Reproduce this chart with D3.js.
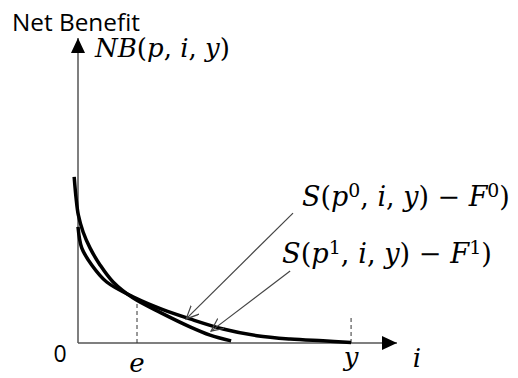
<!DOCTYPE html>
<html>
<head>
<meta charset="utf-8">
<script src="https://cdn.jsdelivr.net/npm/d3@7"></script>
<style>
  html, body { margin: 0; padding: 0; background: #fff; }
  svg { display: block; }
  .sans { font-family: "Open Sans", "Liberation Sans", sans-serif; }
  .math { font-family: "DejaVu Serif", "Liberation Serif", serif; }
</style>
</head>
<body>
<svg id="chart" width="518" height="378"></svg>
<script>
(function() {

    // curves, in (i, net benefit) units
    var curveP0 = [[0, 3.81], [0.12, 3.11], [0.43, 2.56], [0.9, 2.0], [1.79, 1.48],
                   [2.62, 1.11], [3.51, 0.79], [4.55, 0.46], [5.61, 0.24], [6.65, 0.13],
                   [7.68, 0.07], [8.56, 0.02]];
    var curveP1 = [[-0.12, 5.45], [-0.06, 4.75], [0.01, 4.2], [0.16, 3.64], [0.38, 3.11],
                   [0.69, 2.56], [1.1, 2.0], [1.72, 1.48], [2.62, 0.98], [3.51, 0.53],
                   [4.14, 0.26], [4.8, 0.07]];
    var marks = [{ name: 'e', x: 1.85, top: 1.4 }, { name: 'y', x: 8.56, top: 0.92 }];
    var pointers = [
        { from: [6.74, 4.26], to: [3.39, 0.79] }, // to S(p0...)
        { from: [6.65, 2.36], to: [4.17, 0.39] }  // to S(p1...)
    ];
    var axisMax = { x: 10, y: 10 };

    var svg = d3.select('#chart');

    var x = d3.scaleLinear().domain([0, axisMax.x]).range([78, 397]);
    var y = d3.scaleLinear().domain([0, axisMax.y]).range([343, 38]);

    var defs = svg.append('defs');
    defs.append('marker')
        .attr('id', 'solidHead')
        .attr('markerUnits', 'userSpaceOnUse')
        .attr('markerWidth', 16).attr('markerHeight', 16)
        .attr('refX', 15).attr('refY', 7)
        .attr('orient', 'auto')
        .append('path')
        .attr('d', 'M0,0 L15,7 L0,14 Z')
        .attr('fill', '#000');
    defs.append('marker')
        .attr('id', 'openHead')
        .attr('markerUnits', 'userSpaceOnUse')
        .attr('markerWidth', 16).attr('markerHeight', 16)
        .attr('refX', 13).attr('refY', 6)
        .attr('orient', 'auto')
        .append('path')
        .attr('d', 'M0,0 L13,6 L0,12')
        .attr('fill', 'none')
        .attr('stroke', '#444')
        .attr('stroke-width', 1.2);

    // axes
    svg.append('line')
        .attr('x1', x(0)).attr('y1', y(0))
        .attr('x2', x(axisMax.x)).attr('y2', y(0))
        .attr('stroke', '#555').attr('stroke-width', 1.5)
        .attr('marker-end', 'url(#solidHead)');
    svg.append('line')
        .attr('x1', x(0)).attr('y1', y(0))
        .attr('x2', x(0)).attr('y2', y(axisMax.y))
        .attr('stroke', '#555').attr('stroke-width', 1.5)
        .attr('marker-end', 'url(#solidHead)');

    // dashed guides at e and y
    svg.selectAll('line.guide')
        .data(marks)
        .enter()
        .append('line')
        .attr('class', 'guide')
        .attr('x1', function(d) { return x(d.x); })
        .attr('x2', function(d) { return x(d.x); })
        .attr('y1', y(0))
        .attr('y2', function(d) { return y(d.top); })
        .attr('stroke', '#333')
        .attr('stroke-width', 1)
        .attr('stroke-dasharray', '4,3');

    var line = d3.line()
        .x(function(d) { return x(d[0]); })
        .y(function(d) { return y(d[1]); })
        .curve(d3.curveCatmullRom.alpha(0.5));

    svg.selectAll('path.curve')
        .data([curveP0, curveP1])
        .enter()
        .append('path')
        .attr('class', 'curve')
        .attr('d', line)
        .attr('fill', 'none')
        .attr('stroke', '#000')
        .attr('stroke-width', 3.5);

    // pointer arrows
    svg.selectAll('line.pointer')
        .data(pointers)
        .enter()
        .append('line')
        .attr('class', 'pointer')
        .attr('x1', function(d) { return x(d.from[0]); })
        .attr('y1', function(d) { return y(d.from[1]); })
        .attr('x2', function(d) { return x(d.to[0]); })
        .attr('y2', function(d) { return y(d.to[1]); })
        .attr('stroke', '#444')
        .attr('stroke-width', 1.2)
        .attr('marker-end', 'url(#openHead)');

    // shrink/grow a text so it spans the wanted width
    function fit(t, width) {
        var size = +t.attr('font-size');
        var w = t.node().getComputedTextLength();
        t.attr('font-size', (size * width / w).toFixed(2));
        return t;
    }

    fit(svg.append('text')
        .attr('class', 'sans')
        .attr('x', 12).attr('y', 31)
        .attr('font-size', 22)
        .text('Net Benefit'), 128);

    function mathLabel(px, py, parts, size) {
        var t = svg.append('text')
            .attr('class', 'math')
            .attr('x', px).attr('y', py)
            .attr('font-size', size);
        parts.forEach(function(p) {
            var s = t.append('tspan').text(p.t);
            if (p.i) s.attr('font-style', 'italic');
            if (p.sup) s.attr('font-size', '0.7em').attr('baseline-shift', '45%');
        });
        return t;
    }

    fit(mathLabel(95, 57, [
        { t: 'NB', i: 1 }, { t: '(' }, { t: 'p', i: 1 }, { t: ', ' },
        { t: 'i', i: 1 }, { t: ', ' }, { t: 'y', i: 1 }, { t: ')' }
    ], 22), 135);

    fit(mathLabel(302, 206, [
        { t: 'S', i: 1 }, { t: '(' }, { t: 'p', i: 1 }, { t: '0', sup: 1 }, { t: ', ' },
        { t: 'i', i: 1 }, { t: ', ' }, { t: 'y', i: 1 }, { t: ') \u2212 ' },
        { t: 'F', i: 1 }, { t: '0', sup: 1 }, { t: ')' }
    ], 22), 208);

    fit(mathLabel(282, 263, [
        { t: 'S', i: 1 }, { t: '(' }, { t: 'p', i: 1 }, { t: '1', sup: 1 }, { t: ', ' },
        { t: 'i', i: 1 }, { t: ', ' }, { t: 'y', i: 1 }, { t: ') \u2212 ' },
        { t: 'F', i: 1 }, { t: '1', sup: 1 }, { t: ')' }
    ], 22), 210);

    svg.append('text')
        .attr('class', 'sans')
        .attr('x', 60).attr('y', 362)
        .attr('text-anchor', 'middle')
        .attr('font-size', 23)
        .text('0');

    svg.selectAll('text.markLabel')
        .data(marks)
        .enter()
        .append('text')
        .attr('class', 'math markLabel')
        .attr('x', function(d) { return x(d.x); })
        .attr('y', function(d) { return d.name === 'e' ? 372 : 366; })
        .attr('text-anchor', 'middle')
        .attr('font-size', 26)
        .attr('font-style', 'italic')
        .text(function(d) { return d.name; });

    svg.append('text')
        .attr('class', 'math')
        .attr('x', 417).attr('y', 367)
        .attr('text-anchor', 'middle')
        .attr('font-size', 26)
        .attr('font-style', 'italic')
        .text('i');

})();
</script>
</body>
</html>
